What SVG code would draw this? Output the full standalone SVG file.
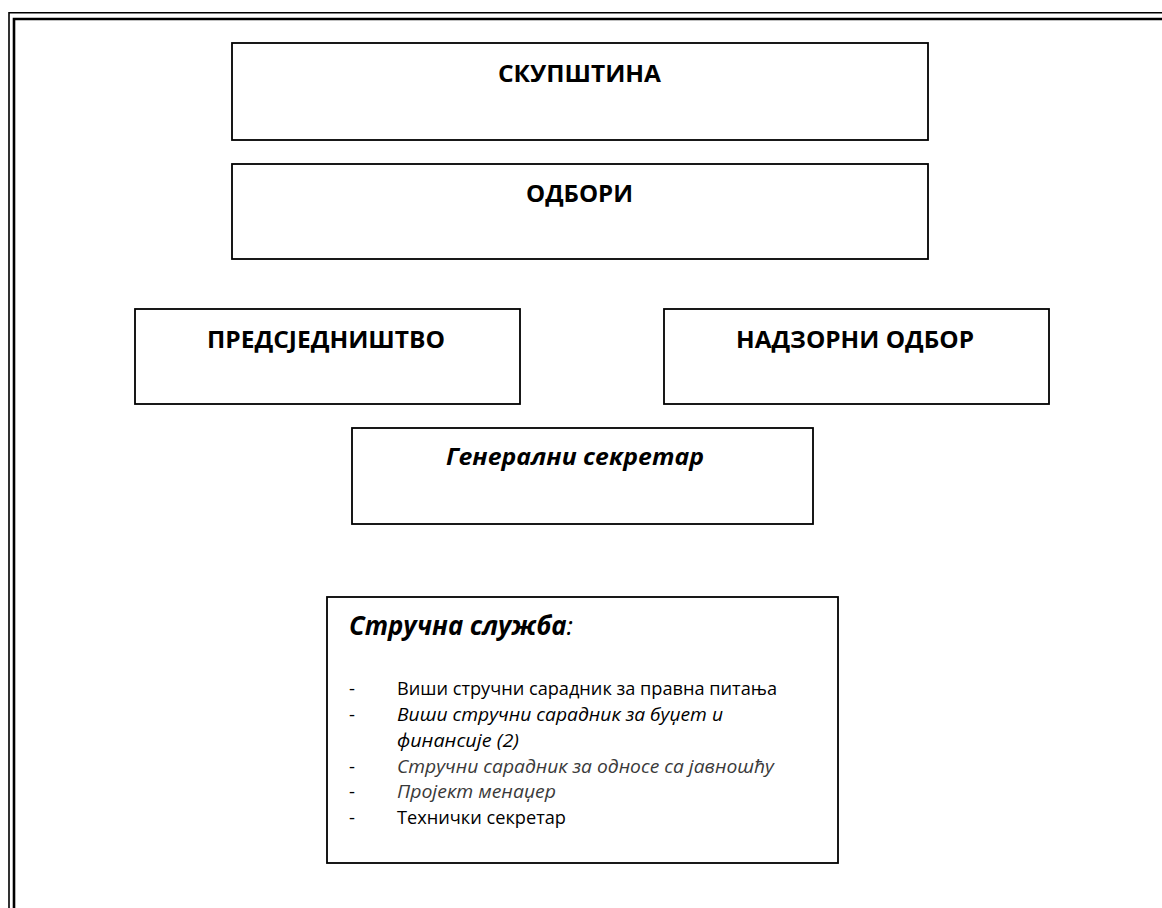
<svg xmlns="http://www.w3.org/2000/svg" width="1162" height="908" viewBox="0 0 1162 908">
<style>
.box{fill:#fff;stroke:#000;stroke-width:1.8}
.h{font-family:"Open Sans","Liberation Sans",sans-serif;font-weight:bold;font-size:24px;fill:#000}
.hi{font-family:"Open Sans","Liberation Sans",sans-serif;font-weight:bold;font-style:italic;font-size:24px;fill:#000}
.li{font-family:"Open Sans","Liberation Sans",sans-serif;font-size:18.5px;fill:#000}
.it{font-style:italic}
.gr{fill:#3a3a3a}
</style>
<rect width="1162" height="908" fill="#fff"/>
<g id="frame" fill="none" stroke="#000">
<path d="M9 908 V12.7 H1162" stroke-width="1.6"/>
<path d="M14 908 V19 H1162" stroke-width="2.6"/>
</g>
<g id="connectors"/>
<g id="skupstina">
<rect class="box" x="232" y="43" width="696" height="97"/>
<text class="h" x="498" y="82" textLength="163" lengthAdjust="spacingAndGlyphs">СКУПШТИНА</text>
</g>
<g id="odbori">
<rect class="box" x="232" y="164" width="696" height="95"/>
<text class="h" x="526" y="202" textLength="107" lengthAdjust="spacingAndGlyphs">ОДБОРИ</text>
</g>
<g id="predsjednistvo">
<rect class="box" x="135" y="309" width="385" height="95"/>
<text class="h" x="207" y="348" textLength="238" lengthAdjust="spacingAndGlyphs">ПРЕДСЈЕДНИШТВО</text>
</g>
<g id="nadzorni">
<rect class="box" x="664" y="309" width="385" height="95"/>
<text class="h" x="736" y="348" textLength="238" lengthAdjust="spacingAndGlyphs">НАДЗОРНИ ОДБОР</text>
</g>
<g id="generalni">
<rect class="box" x="352" y="428" width="461" height="96"/>
<text class="hi" x="446" y="465" textLength="258" lengthAdjust="spacingAndGlyphs">Генерални секретар</text>
</g>
<g id="strucna">
<rect class="box" x="327" y="597" width="511" height="266"/>
<text x="349" y="635" font-family="'Open Sans','Liberation Sans',sans-serif" font-size="26" font-style="italic" textLength="224" lengthAdjust="spacingAndGlyphs"><tspan font-weight="bold">Стручна служба</tspan><tspan>:</tspan></text>
<g class="li">
<text x="349" y="695">-</text><text x="397" y="695" textLength="380" lengthAdjust="spacingAndGlyphs">Виши стручни сарадник за правна питања</text>
<text x="349" y="721">-</text><text class="it" x="397" y="721" textLength="326" lengthAdjust="spacingAndGlyphs">Виши стручни сарадник за буџет и</text>
<text class="it" x="397" y="747" textLength="122" lengthAdjust="spacingAndGlyphs">финансије (2)</text>
<text x="349" y="773">-</text><text class="it gr" x="397" y="773" textLength="377" lengthAdjust="spacingAndGlyphs">Стручни сарадник за односе са јавношћу</text>
<text x="349" y="798">-</text><text class="it gr" x="397" y="798" textLength="159" lengthAdjust="spacingAndGlyphs">Пројект менаџер</text>
<text x="349" y="824">-</text><text x="397" y="824" textLength="169" lengthAdjust="spacingAndGlyphs">Технички секретар</text>
</g>
</g>
</svg>
